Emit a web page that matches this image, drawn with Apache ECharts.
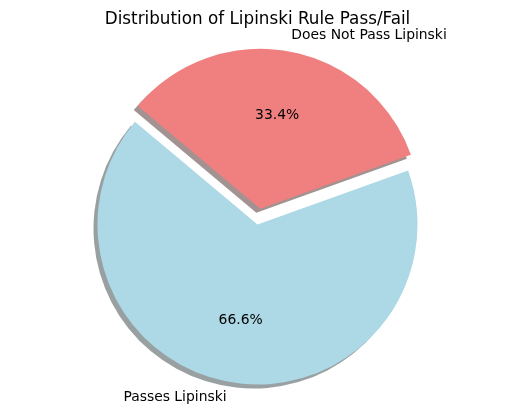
<!DOCTYPE html>
<html><head><meta charset="utf-8">
<script src="https://cdn.jsdelivr.net/npm/echarts@6/dist/echarts.min.js"></script>
<style>html,body{margin:0;padding:0;background:#fff}#c{width:515px;height:415px}</style>
</head><body><div id="c"></div>
<script>
const titleText = 'Distribution of Lipinski Rule Pass/Fail';
const categories = ['Passes Lipinski', 'Does Not Pass Lipinski'];
const values = [66.6, 33.4];
const colors = ['#ADD8E6', '#F08080'];
const shadowColors = ['rgba(52,65,69,0.5)', 'rgba(72,38,38,0.5)'];
const exploded = [false, true];

const FONT = 'DejaVu Sans';
const cx = 257.5, cy = 224.5, R = 160;

const mainData = categories.map((c, i) => ({
  name: c, value: values[i], selected: exploded[i],
  itemStyle: { color: colors[i], shadowColor: shadowColors[i], shadowOffsetX: -4, shadowOffsetY: 4, shadowBlur: 0 }
}));
const pctData = categories.map((c, i) => ({ name: c, value: values[i], selected: exploded[i] }));

const chart = echarts.init(document.getElementById('c'), null, { renderer: 'canvas' });
chart.setOption({
  animation: false,
  backgroundColor: '#fff',
  title: { text: titleText, left: 'center', top: 6, textStyle: { fontFamily: FONT, fontSize: 16.8, fontWeight: 'normal', color: '#000' } },
  series: [
    {
      type: 'pie', center: [cx, cy], radius: [0, R],
      startAngle: 140, clockwise: false,
      selectedMode: 'single', selectedOffset: 16,
      avoidLabelOverlap: false, silent: true,
      label: { show: true, position: 'outside', formatter: '{b}', fontFamily: FONT, fontSize: 13.9, color: '#000', distanceToLabelLine: 0 },
      labelLine: { show: false, length: 16, length2: 0 },
      emphasis: { disabled: true },
      data: mainData
    },
    {
      type: 'pie', center: [cx, cy + 1], radius: [26, R],
      startAngle: 140, clockwise: false,
      selectedMode: 'single', selectedOffset: 16,
      avoidLabelOverlap: false, silent: true,
      itemStyle: { color: 'rgba(0,0,0,0)' },
      label: { show: true, position: 'inside', formatter: p => p.value.toFixed(1) + '%', fontFamily: FONT, fontSize: 13.9, color: '#000' },
      labelLine: { show: false },
      emphasis: { disabled: true },
      data: pctData
    }
  ]
});
</script></body></html>
